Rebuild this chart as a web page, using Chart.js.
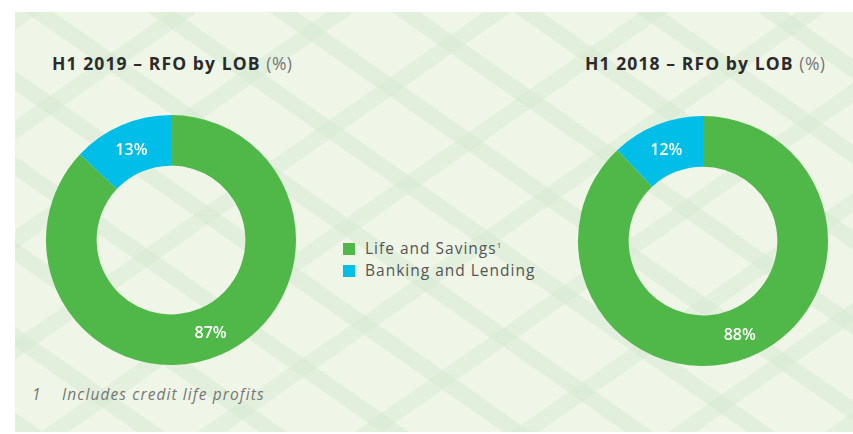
<!DOCTYPE html>
<html>
<head>
<meta charset="utf-8">
<script src="https://cdn.jsdelivr.net/npm/chart.js@4"></script>
<style>
  html, body { margin: 0; padding: 0; background: #fff; }
  body { width: 853px; height: 434px; position: relative; overflow: hidden; font-family: "Open Sans", sans-serif; }
  #panel {
    position: absolute; left: 15px; top: 12px; width: 838px; height: 420px;
    background-color: #eff6e8;
    background-image:
      repeating-linear-gradient(35deg, rgba(214,233,210,0.55) 0 16px, transparent 16px 70px),
      repeating-linear-gradient(-35deg, rgba(214,233,210,0.45) 0 16px, transparent 16px 90px);
  }
  .title { position: absolute; top: 51px; font-size: 17.5px; font-weight: 700; color: #2b2b2b; white-space: nowrap; letter-spacing: 1.1px; }
  .title span { font-weight: 400; color: #777; letter-spacing: 0.5px; }
  canvas { position: absolute; }
  #legend { position: absolute; left: 343px; top: 237px; font-size: 15.5px; color: #555; letter-spacing: 1px; }
  #legend div { height: 22px; line-height: 22px; white-space: nowrap; }
  #legend i { display: inline-block; width: 12px; height: 12px; margin-right: 10px; vertical-align: -1px; }
  #legend sup { font-size: 8px; vertical-align: 6px; line-height: 0; }
  #note { position: absolute; left: 32px; top: 383px; font-size: 15.5px; font-style: italic; color: #777; white-space: nowrap; letter-spacing: 1.1px; }
  #note b { font-weight: 400; display: inline-block; width: 30px; }
</style>
</head>
<body>
<div id="panel"></div>
<div class="title" style="left:52px">H1 2019 – RFO by LOB <span>(%)</span></div>
<div class="title" style="left:585px">H1 2018 – RFO by LOB <span>(%)</span></div>
<canvas id="c2019" width="250" height="250" style="left:46px; top:115px"></canvas>
<canvas id="c2018" width="250" height="250" style="left:578px; top:116px"></canvas>
<div id="legend"></div>
<div id="note"><b>1</b>Includes credit life profits</div>
<script>
const categories = ['Life and Savings', 'Banking and Lending'];
const values2019 = [87, 13];
const values2018 = [88, 12];
const colors = ['#50b848', '#00bee8'];

// legend built from the categories
document.getElementById('legend').innerHTML = categories.map((c, i) =>
  '<div><i style="background:' + colors[i] + '"></i>' + c + (i === 0 ? '<sup>1</sup>' : '') + '</div>'
).join('');

const sliceLabels = {
  id: 'sliceLabels',
  afterDatasetsDraw(chart) {
    const ctx = chart.ctx;
    const data = chart.data.datasets[0].data;
    chart.getDatasetMeta(0).data.forEach((arc, i) => {
      const p = arc.tooltipPosition();
      ctx.save();
      ctx.fillStyle = '#fff';
      ctx.font = '600 16px "Open Sans", sans-serif';
      ctx.textAlign = 'center';
      ctx.textBaseline = 'middle';
      ctx.fillText(data[i] + '%', p.x, p.y + 2);
      ctx.restore();
    });
  }
};

function donut(id, values) {
  new Chart(document.getElementById(id), {
    type: 'doughnut',
    data: {
      labels: categories,
      datasets: [{
        data: values,
        backgroundColor: colors,
        borderWidth: 0
      }]
    },
    options: {
      responsive: false,
      animation: false,
      cutout: '59.5%',
      events: [],
      layout: { padding: 0 },
      plugins: {
        legend: { display: false },
        tooltip: { enabled: false }
      }
    },
    plugins: [sliceLabels]
  });
}

donut('c2019', values2019);
donut('c2018', values2018);
</script>
</body>
</html>
